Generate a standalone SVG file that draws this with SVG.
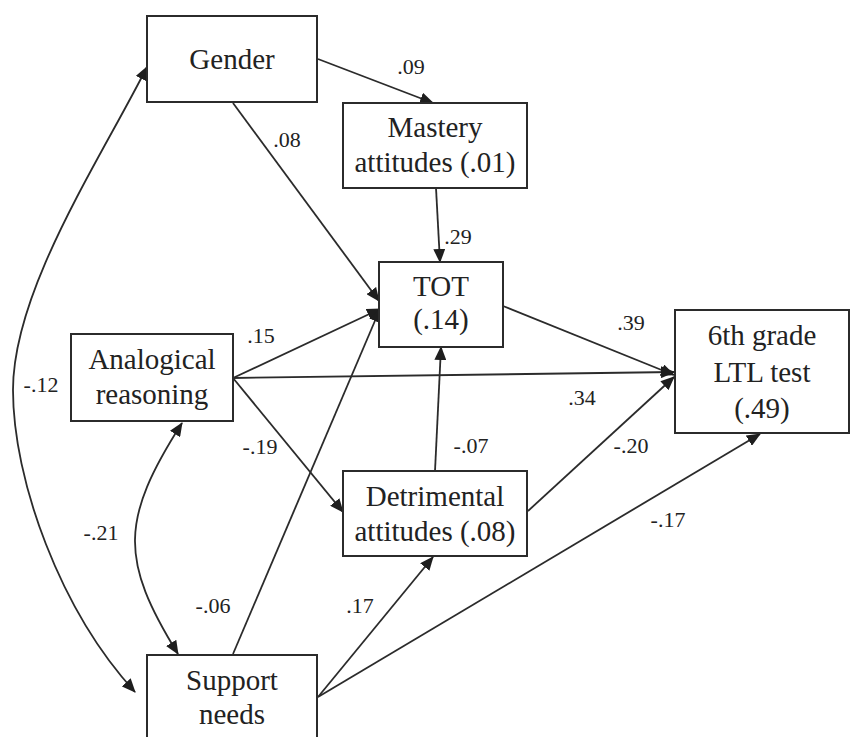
<svg xmlns="http://www.w3.org/2000/svg" width="851" height="737" viewBox="0 0 851 737">
<style>
.box{fill:#fff;stroke:#2b2b2b;stroke-width:2}
.t{font-family:'Liberation Serif','DejaVu Serif',serif;font-size:29px;fill:#222;text-anchor:middle}
.l{font-family:'Liberation Serif','DejaVu Serif',serif;font-size:22px;fill:#222;text-anchor:middle}
.e{fill:none;stroke:#2b2b2b;stroke-width:1.8}
</style>
<defs>
<marker id="ah" markerUnits="userSpaceOnUse" markerWidth="14" markerHeight="12" refX="13" refY="6" orient="auto">
<path d="M0,0 L14,6 L0,12 Z" fill="#1e1e1e"/>
</marker>
<marker id="as" markerUnits="userSpaceOnUse" markerWidth="14" markerHeight="12" refX="1" refY="6" orient="auto">
<path d="M14,0 L0,6 L14,12 Z" fill="#1e1e1e"/>
</marker>
</defs>
<rect width="851" height="737" fill="#fff"/>
<g id="connectors">
<line class="e" x1="318" y1="59" x2="433" y2="103" marker-end="url(#ah)"/>
<line class="e" x1="233" y1="103" x2="379" y2="301" marker-end="url(#ah)"/>
<line class="e" x1="436" y1="188" x2="440" y2="262" marker-end="url(#ah)"/>
<line class="e" x1="233" y1="378" x2="380" y2="309" marker-end="url(#ah)"/>
<line class="e" x1="233" y1="654" x2="380" y2="309" marker-end="url(#ah)"/>
<line class="e" x1="503" y1="306" x2="674" y2="375" marker-end="url(#ah)"/>
<line class="e" x1="233" y1="378" x2="674" y2="372" marker-end="url(#ah)"/>
<line class="e" x1="528" y1="511" x2="674" y2="377" marker-end="url(#ah)"/>
<line class="e" x1="435" y1="471" x2="441" y2="347" marker-end="url(#ah)"/>
<line class="e" x1="233" y1="378" x2="343" y2="512" marker-end="url(#ah)"/>
<line class="e" x1="318" y1="697" x2="433" y2="557" marker-end="url(#ah)"/>
<line class="e" x1="318" y1="697" x2="760" y2="434" marker-end="url(#ah)"/>
<path class="e" d="M147,67 C100,160 13,290 13,390 C13,480 60,610 135,692" marker-start="url(#as)" marker-end="url(#ah)"/>
<path class="e" d="M182,423 C120,520 120,560 178,654" marker-start="url(#as)" marker-end="url(#ah)"/>
</g>
<g id="labels">
<text class="l" x="411" y="74">.09</text>
<text class="l" x="287" y="147">.08</text>
<text class="l" x="458" y="244">.29</text>
<text class="l" x="631" y="330">.39</text>
<text class="l" x="582" y="405">.34</text>
<text class="l" x="471" y="453">-.07</text>
<text class="l" x="631" y="453">-.20</text>
<text class="l" x="668" y="527">-.17</text>
<text class="l" x="360" y="613">.17</text>
<text class="l" x="41" y="392">-.12</text>
<text class="l" x="261" y="343">.15</text>
<text class="l" x="260" y="454">-.19</text>
<text class="l" x="101" y="540">-.21</text>
<text class="l" x="213" y="613">-.06</text>
</g>
<g id="gender"><rect class="box" x="147" y="16" width="170" height="86"/><text class="t" x="232" y="69">Gender</text></g>
<g id="mastery"><rect class="box" x="343" y="103" width="184" height="85"/><text class="t" x="435" y="137">Mastery</text><text class="t" x="435" y="172">attitudes (.01)</text></g>
<g id="tot"><rect class="box" x="379" y="262" width="124" height="85"/><text class="t" x="441" y="296">TOT</text><text class="t" x="441" y="329">(.14)</text></g>
<g id="ltl"><rect class="box" x="675" y="310" width="174" height="123"/><text class="t" x="762" y="345">6th grade</text><text class="t" x="762" y="382">LTL test</text><text class="t" x="762" y="418">(.49)</text></g>
<g id="analogical"><rect class="box" x="71" y="334" width="162" height="87"/><text class="t" x="152" y="369">Analogical</text><text class="t" x="152" y="404">reasoning</text></g>
<g id="detrimental"><rect class="box" x="343" y="471" width="184" height="85"/><text class="t" x="435" y="506">Detrimental</text><text class="t" x="435" y="541">attitudes (.08)</text></g>
<g id="support"><rect class="box" x="147" y="655" width="170" height="100"/><text class="t" x="232" y="690">Support</text><text class="t" x="232" y="724">needs</text></g>
</svg>
